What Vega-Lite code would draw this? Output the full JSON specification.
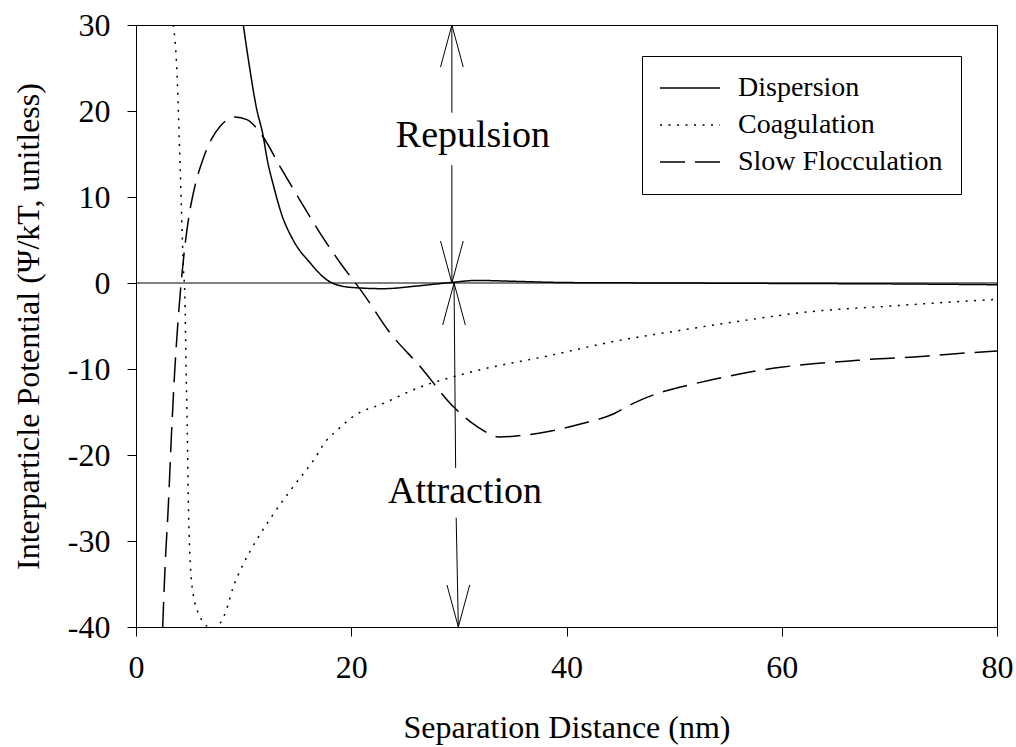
{
  "$schema": "https://vega.github.io/schema/vega-lite/v6.json",
  "width": 861,
  "height": 602,
  "autosize": {"type": "none"},
  "padding": {"left": 136, "top": 25, "right": 19, "bottom": 120},
  "background": "white",
  "config": {
    "font": "Liberation Serif",
    "view": {"stroke": "black", "strokeWidth": 1},
    "axis": {
      "domainColor": "black", "tickColor": "black", "labelColor": "black", "titleColor": "black",
      "grid": false, "tickSize": 9, "labelFontSize": 32, "titleFontSize": 32, "titleFontWeight": "normal",
      "labelFont": "Liberation Serif", "titleFont": "Liberation Serif", "domainWidth": 1, "tickWidth": 1,
      "labelFlush": false, "labelOverlap": false, "titleLimit": 800
    }
  },
  "encoding": {
    "x": {"field": "x", "type": "quantitative",
      "scale": {"domain": [0, 80], "nice": false, "zero": false},
      "axis": {"values": [0, 20, 40, 60, 80], "title": "Separation Distance (nm)", "labelPadding": 16, "titlePadding": 29,
        "labelFont": "Liberation Serif", "titleFont": "Liberation Serif"}},
    "y": {"field": "y", "type": "quantitative",
      "scale": {"domain": [-40, 30], "nice": false, "zero": false},
      "axis": {"values": [-40, -30, -20, -10, 0, 10, 20, 30], "title": "Interparticle Potential (Ψ/kT, unitless)",
        "labelPadding": 17, "titlePadding": 22, "labelExpr": "replace(datum.label, '−', '-')",
        "labelFont": "Liberation Serif", "titleFont": "Liberation Serif"}}
  },
  "layer": [
    {
      "data": {"values": [
        {"x": 0, "y": 0, "x2": 80, "y2": 0},
        {"x": 29.35, "y": 30, "x2": 29.35, "y2": 19.8},
        {"x": 29.35, "y": 13.7, "x2": 29.35, "y2": 0},
        {"x": 29.55, "y": 0, "x2": 29.7, "y2": -21.5},
        {"x": 29.75, "y": -27.3, "x2": 29.95, "y2": -40}
      ]},
      "mark": {"type": "rule", "color": "black", "strokeWidth": 1},
      "encoding": {"x2": {"field": "x2"}, "y2": {"field": "y2"}}
    },
    {
      "data": {"values": [
        {"series": "Dispersion", "x": 9.97, "y": 30},
        {"series": "Dispersion", "x": 10.5, "y": 25.5},
        {"series": "Dispersion", "x": 11.2, "y": 20.3},
        {"series": "Dispersion", "x": 11.8, "y": 17.2},
        {"series": "Dispersion", "x": 12.2, "y": 14.3},
        {"series": "Dispersion", "x": 12.8, "y": 11.2},
        {"series": "Dispersion", "x": 13.5, "y": 8.1},
        {"series": "Dispersion", "x": 14.6, "y": 5.0},
        {"series": "Dispersion", "x": 16.2, "y": 2.3},
        {"series": "Dispersion", "x": 18.0, "y": 0.15},
        {"series": "Dispersion", "x": 19.9, "y": -0.5},
        {"series": "Dispersion", "x": 23.0, "y": -0.66},
        {"series": "Dispersion", "x": 26.1, "y": -0.35},
        {"series": "Dispersion", "x": 29.2, "y": 0.05},
        {"series": "Dispersion", "x": 31.7, "y": 0.3},
        {"series": "Dispersion", "x": 35, "y": 0.2},
        {"series": "Dispersion", "x": 40, "y": 0.05},
        {"series": "Dispersion", "x": 50, "y": 0},
        {"series": "Dispersion", "x": 60, "y": -0.05},
        {"series": "Dispersion", "x": 70, "y": -0.1},
        {"series": "Dispersion", "x": 80, "y": -0.2},
        {"series": "Coagulation", "x": 3.47, "y": 30},
        {"series": "Coagulation", "x": 3.78, "y": 25.2},
        {"series": "Coagulation", "x": 4.1, "y": 13.5},
        {"series": "Coagulation", "x": 4.4, "y": 1.9},
        {"series": "Coagulation", "x": 4.55, "y": -2},
        {"series": "Coagulation", "x": 4.65, "y": -9.7},
        {"series": "Coagulation", "x": 4.77, "y": -17.5},
        {"series": "Coagulation", "x": 4.86, "y": -25.2},
        {"series": "Coagulation", "x": 5.0, "y": -31.4},
        {"series": "Coagulation", "x": 5.3, "y": -36.1},
        {"series": "Coagulation", "x": 5.95, "y": -38.8},
        {"series": "Coagulation", "x": 6.6, "y": -39.9},
        {"series": "Coagulation", "x": 7.2, "y": -40.1},
        {"series": "Coagulation", "x": 7.8, "y": -39.6},
        {"series": "Coagulation", "x": 8.4, "y": -38.0},
        {"series": "Coagulation", "x": 9.0, "y": -35.5},
        {"series": "Coagulation", "x": 10.0, "y": -32.6},
        {"series": "Coagulation", "x": 11.2, "y": -29.9},
        {"series": "Coagulation", "x": 12.8, "y": -26.8},
        {"series": "Coagulation", "x": 14.6, "y": -23.7},
        {"series": "Coagulation", "x": 16.5, "y": -20.6},
        {"series": "Coagulation", "x": 17.7, "y": -18.3},
        {"series": "Coagulation", "x": 18.7, "y": -17.1},
        {"series": "Coagulation", "x": 20.2, "y": -15.5},
        {"series": "Coagulation", "x": 23.0, "y": -14.0},
        {"series": "Coagulation", "x": 26.4, "y": -12.1},
        {"series": "Coagulation", "x": 29.5, "y": -10.9},
        {"series": "Coagulation", "x": 32.3, "y": -10.0},
        {"series": "Coagulation", "x": 38.2, "y": -8.5},
        {"series": "Coagulation", "x": 44.4, "y": -6.8},
        {"series": "Coagulation", "x": 50.6, "y": -5.5},
        {"series": "Coagulation", "x": 56.8, "y": -4.3},
        {"series": "Coagulation", "x": 62.9, "y": -3.3},
        {"series": "Coagulation", "x": 69.1, "y": -2.76},
        {"series": "Coagulation", "x": 75.3, "y": -2.25},
        {"series": "Coagulation", "x": 80, "y": -1.9},
        {"series": "Slow Flocculation", "x": 2.48, "y": -40},
        {"series": "Slow Flocculation", "x": 2.7, "y": -33},
        {"series": "Slow Flocculation", "x": 3.0, "y": -26},
        {"series": "Slow Flocculation", "x": 3.3, "y": -17.5},
        {"series": "Slow Flocculation", "x": 3.6, "y": -10.2},
        {"series": "Slow Flocculation", "x": 3.9, "y": -4.5},
        {"series": "Slow Flocculation", "x": 4.2, "y": 0.1},
        {"series": "Slow Flocculation", "x": 4.5, "y": 3.8},
        {"series": "Slow Flocculation", "x": 4.9, "y": 7.6},
        {"series": "Slow Flocculation", "x": 5.5, "y": 11.4},
        {"series": "Slow Flocculation", "x": 6.2, "y": 14.3},
        {"series": "Slow Flocculation", "x": 7.0, "y": 16.7},
        {"series": "Slow Flocculation", "x": 7.8, "y": 18.2},
        {"series": "Slow Flocculation", "x": 8.5, "y": 19.0},
        {"series": "Slow Flocculation", "x": 9.2, "y": 19.3},
        {"series": "Slow Flocculation", "x": 10.3, "y": 19.0},
        {"series": "Slow Flocculation", "x": 11.8, "y": 17.0},
        {"series": "Slow Flocculation", "x": 13.4, "y": 13.5},
        {"series": "Slow Flocculation", "x": 15.2, "y": 9.7},
        {"series": "Slow Flocculation", "x": 17.1, "y": 5.8},
        {"series": "Slow Flocculation", "x": 19.0, "y": 2.3},
        {"series": "Slow Flocculation", "x": 21.1, "y": -1.2},
        {"series": "Slow Flocculation", "x": 23.6, "y": -5.8},
        {"series": "Slow Flocculation", "x": 26.4, "y": -9.7},
        {"series": "Slow Flocculation", "x": 29.5, "y": -14.4},
        {"series": "Slow Flocculation", "x": 31.7, "y": -16.7},
        {"series": "Slow Flocculation", "x": 33.8, "y": -17.9},
        {"series": "Slow Flocculation", "x": 36.0, "y": -17.7},
        {"series": "Slow Flocculation", "x": 38.2, "y": -17.3},
        {"series": "Slow Flocculation", "x": 41.3, "y": -16.4},
        {"series": "Slow Flocculation", "x": 44.4, "y": -15.2},
        {"series": "Slow Flocculation", "x": 46.2, "y": -14.0},
        {"series": "Slow Flocculation", "x": 48.1, "y": -13.0},
        {"series": "Slow Flocculation", "x": 50.6, "y": -12.1},
        {"series": "Slow Flocculation", "x": 53.7, "y": -11.2},
        {"series": "Slow Flocculation", "x": 56.8, "y": -10.4},
        {"series": "Slow Flocculation", "x": 59.9, "y": -9.8},
        {"series": "Slow Flocculation", "x": 62.9, "y": -9.4},
        {"series": "Slow Flocculation", "x": 66.0, "y": -9.1},
        {"series": "Slow Flocculation", "x": 69.1, "y": -8.8},
        {"series": "Slow Flocculation", "x": 72.3, "y": -8.6},
        {"series": "Slow Flocculation", "x": 75.3, "y": -8.3},
        {"series": "Slow Flocculation", "x": 80, "y": -7.9}
      ]},
      "mark": {"type": "line", "color": "black", "strokeWidth": 1.5, "interpolate": "monotone", "clip": true},
      "encoding": {
        "strokeDash": {"field": "series", "type": "nominal",
          "scale": {"domain": ["Dispersion", "Coagulation", "Slow Flocculation"], "range": [[1, 0], [2, 6.5], [25, 10]]},
          "legend": {"orient": "none", "legendX": 506, "legendY": 31, "title": null, "strokeColor": "black",
            "fillColor": "white", "padding": 18, "labelFontSize": 28, "labelFont": "Liberation Serif", "labelColor": "black",
            "labelLimit": 500,
            "symbolType": "M-3,0L3,0", "symbolSize": 400, "symbolStrokeWidth": 1.5, "symbolStrokeColor": "black",
            "rowPadding": 9, "symbolOffset": 16, "labelOffset": 34}}
      }
    },
    {
      "data": {"values": [{"x": 29.35, "y": 30}, {"x": 29.55, "y": 0}]},
      "mark": {"type": "point", "shape": "M-0.54,2L0,0L0.54,2", "size": 1764, "filled": false, "stroke": "black", "strokeWidth": 1, "opacity": 1}
    },
    {
      "data": {"values": [{"x": 29.35, "y": 0}, {"x": 29.95, "y": -40}]},
      "mark": {"type": "point", "shape": "M-0.54,-2L0,0L0.54,-2", "size": 1764, "filled": false, "stroke": "black", "strokeWidth": 1, "opacity": 1}
    },
    {
      "data": {"values": [
        {"x": 31.3, "y": 15.85, "label": "Repulsion"},
        {"x": 30.57, "y": -25.6, "label": "Attraction"}
      ]},
      "mark": {"type": "text", "font": "Liberation Serif", "fontSize": 38, "align": "center", "baseline": "alphabetic", "color": "black"},
      "encoding": {"text": {"field": "label"}}
    }
  ]
}
